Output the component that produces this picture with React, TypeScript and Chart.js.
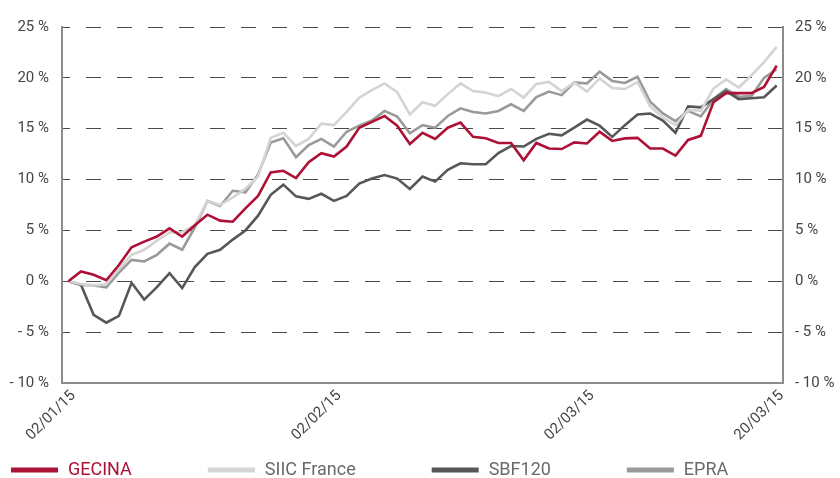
import React, { useEffect, useRef } from 'react';
import { Chart, registerables } from 'chart.js';

Chart.register(...registerables);

const dates = [
  '02/01/15', '05/01/15', '06/01/15', '07/01/15', '08/01/15', '09/01/15', '12/01/15', '13/01/15', '14/01/15', '15/01/15',
  '16/01/15', '19/01/15', '20/01/15', '21/01/15', '22/01/15', '23/01/15', '26/01/15', '27/01/15', '28/01/15', '29/01/15',
  '30/01/15', '02/02/15', '03/02/15', '04/02/15', '05/02/15', '06/02/15', '09/02/15', '10/02/15', '11/02/15', '12/02/15',
  '13/02/15', '16/02/15', '17/02/15', '18/02/15', '19/02/15', '20/02/15', '23/02/15', '24/02/15', '25/02/15', '26/02/15',
  '27/02/15', '02/03/15', '03/03/15', '04/03/15', '05/03/15', '06/03/15', '09/03/15', '10/03/15', '11/03/15', '12/03/15',
  '13/03/15', '14/03/15', '16/03/15', '17/03/15', '18/03/15', '19/03/15', '20/03/15',
];

const shownDates = ['02/01/15', '02/02/15', '02/03/15', '20/03/15'];

const seriesNames = ['GECINA', 'SIIC France', 'SBF120', 'EPRA'];

const gecina = [
  0, 0.96, 0.64, 0.1, 1.6, 3.35, 3.9, 4.4, 5.2, 4.4,
  5.5, 6.55, 5.96, 5.86, 7.17, 8.4, 10.7, 10.86, 10.15, 11.7,
  12.6, 12.27, 13.25, 15.1, 15.67, 16.25, 15.3, 13.5, 14.6, 14.0,
  15.1, 15.6, 14.2, 14.07, 13.6, 13.6, 11.9, 13.6, 13.05, 13.0,
  13.65, 13.55, 14.7, 13.8, 14.05, 14.1, 13.05, 13.05, 12.35, 13.9,
  14.3, 17.6, 18.5, 18.5, 18.5, 19.1, 21.2,
];

const siicFrance = [
  0, -0.3, -0.4, -0.3, 1.2, 2.6, 3.1, 4.0, 4.8, 4.85,
  5.5, 7.9, 7.5, 8.25, 9.1, 10.3, 14.1, 14.6, 13.3, 14.0,
  15.5, 15.35, 16.65, 18.05, 18.8, 19.45, 18.6, 16.4, 17.6, 17.25,
  18.4, 19.45, 18.7, 18.55, 18.2, 18.9, 18.05, 19.4, 19.6, 18.7,
  19.55, 18.65, 19.95, 19.0, 18.9, 19.6, 17.2, 16.1, 15.35, 16.85,
  16.75, 18.95, 19.85, 19.05, 20.25, 21.55, 23.05,
];

const sbf120 = [
  0, -0.35, -3.3, -4.07, -3.4, -0.15, -1.8, -0.57, 0.8, -0.67,
  1.39, 2.7, 3.1, 4.1, 5.0, 6.45, 8.5, 9.5, 8.35, 8.1,
  8.6, 7.9, 8.4, 9.6, 10.1, 10.45, 10.1, 9.07, 10.3, 9.8,
  10.96, 11.6, 11.5, 11.5, 12.6, 13.3, 13.25, 14.0, 14.5, 14.35,
  15.1, 15.9, 15.3, 14.2, 15.35, 16.4, 16.5, 15.8, 14.6, 17.2,
  17.1, 17.9, 18.7, 17.9, 18.0, 18.1, 19.25,
];

const epra = [
  0, -0.35, -0.4, -0.6, 0.85, 2.1, 1.95, 2.6, 3.7, 3.1,
  5.3, 7.9, 7.4, 8.9, 8.75, 10.5, 13.65, 14.05, 12.2, 13.4,
  14.0, 13.25, 14.7, 15.3, 15.8, 16.75, 16.2, 14.55, 15.35, 15.1,
  16.25, 17.0, 16.65, 16.5, 16.75, 17.4, 16.75, 18.1, 18.65, 18.3,
  19.55, 19.45, 20.6, 19.7, 19.5, 20.1, 17.65, 16.5, 15.75, 16.75,
  16.2, 17.9, 18.9, 18.15, 18.2, 20.0, 20.85,
];

const yMin = -10;
const yMax = 25;
const yStep = 5;

const colors = ['#ad1136', '#d4d4d4', '#575757', '#9a9a9a'];
const FONT = 'Roboto, "Noto Sans", sans-serif';

function pctLabel(v: number): string {
  return v < 0 ? '- ' + Math.abs(v) + ' %' : v + ' %';
}

const bottomLegend = {
  id: 'bottomLegend',
  afterDraw(chart: any) {
    const ctx = chart.ctx;
    ctx.save();
    ctx.font = '18px ' + FONT;
    ctx.textBaseline = 'middle';
    ctx.textAlign = 'left';
    const y = 470;
    let x = 11;
    chart.data.datasets.forEach((ds: any, i: number) => {
      ctx.fillStyle = ds.borderColor;
      ctx.fillRect(x, y - 2.5, 47, 5);
      ctx.fillStyle = i === 0 ? ds.borderColor : '#6a6a6a';
      const tx = x + 57;
      ctx.fillText(ds.label, tx, y);
      x = tx + ctx.measureText(ds.label).width + 76;
    });
    ctx.restore();
  },
};

export default function App() {
  const ref = useRef<HTMLCanvasElement>(null);

  useEffect(() => {
    if (!ref.current) return;
    const values = [gecina, siicFrance, sbf120, epra];
    const chart = new Chart(ref.current, {
      type: 'line',
      data: {
        labels: dates,
        datasets: values.map((d, i) => ({
          label: seriesNames[i],
          data: d,
          borderColor: colors[i],
          backgroundColor: colors[i],
          borderWidth: 2.6,
          pointRadius: 0,
          tension: 0,
          fill: false,
          yAxisID: 'y',
        })),
      },
      options: {
        responsive: false,
        animation: false,
        events: [],
        layout: { padding: { top: 27, left: 0, right: 0, bottom: 0 } },
        plugins: {
          legend: { display: false },
          tooltip: { enabled: false },
          title: { display: false },
        },
        scales: {
          x: {
            type: 'category',
            offset: true,
            grid: { display: false, drawTicks: false },
            border: { display: true, color: '#8c8c8c', width: 2 },
            ticks: {
              autoSkip: false,
              minRotation: 45,
              maxRotation: 45,
              padding: 4,
              labelOffset: 5,
              color: '#444',
              font: { family: FONT, size: 15 },
              callback: (_v: any, index: number) =>
                shownDates.includes(dates[index]) ? dates[index] : '',
            },
            afterFit: (s: any) => {
              s.height = 95;
            },
          },
          y: {
            type: 'linear',
            position: 'left',
            min: yMin,
            max: yMax,
            grid: { color: '#4a4a4a', lineWidth: 1, drawTicks: false },
            border: { display: true, color: '#8c8c8c', width: 2, dash: [15, 16], dashOffset: 8 },
            ticks: {
              stepSize: yStep,
              padding: 13,
              color: '#444',
              font: { family: FONT, size: 15 },
              callback: (v: any) => pctLabel(Number(v)),
            },
            afterFit: (s: any) => {
              s.width = 62;
            },
          },
          y2: {
            type: 'linear',
            position: 'right',
            min: yMin,
            max: yMax,
            grid: { display: false, drawTicks: false },
            border: { display: true, color: '#8c8c8c', width: 2 },
            ticks: {
              stepSize: yStep,
              padding: 12,
              color: '#444',
              font: { family: FONT, size: 15 },
              callback: (v: any) => pctLabel(Number(v)),
            },
            afterFit: (s: any) => {
              s.width = 57;
            },
          },
        },
      },
      plugins: [bottomLegend],
    });
    return () => chart.destroy();
  }, []);

  return (
    <div style={{ position: 'fixed', left: 0, top: 0, width: 840, height: 478, background: '#fff' }}>
      <canvas ref={ref} width={840} height={478} style={{ display: 'block' }} />
    </div>
  );
}
